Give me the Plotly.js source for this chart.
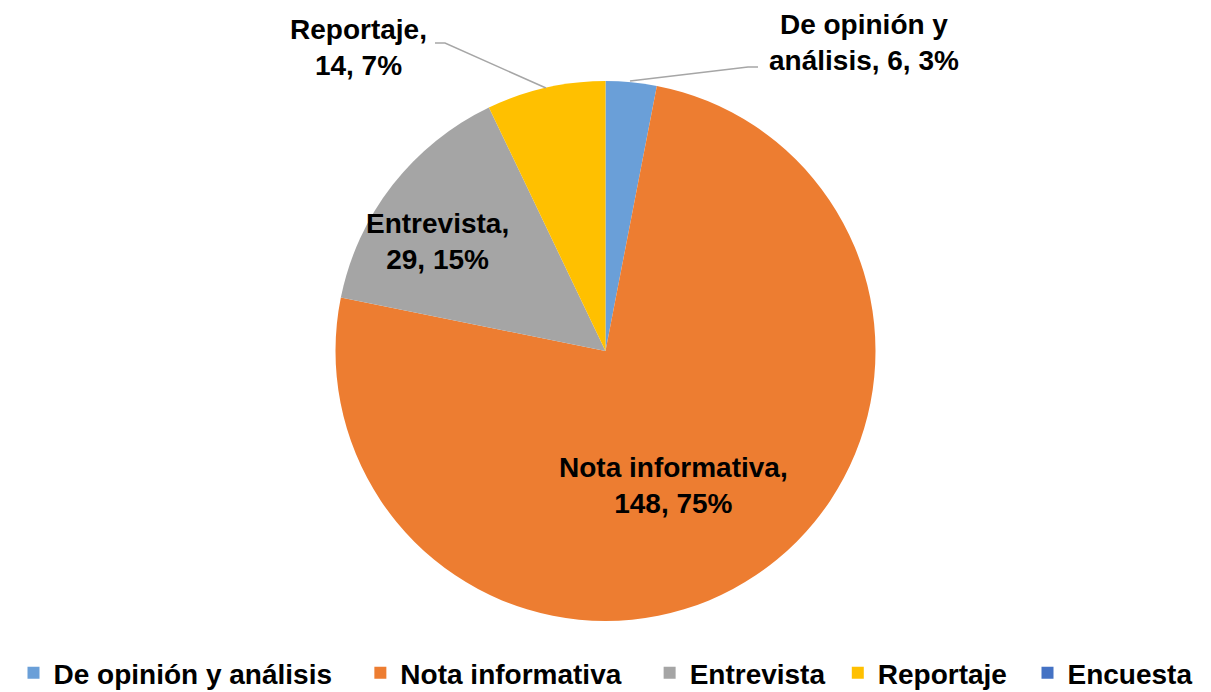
<!DOCTYPE html>
<html>
<head>
<meta charset="utf-8">
<script src="https://cdn.plot.ly/plotly-3.0.1.min.js"></script>
<style>html,body{margin:0;padding:0;background:#fff;}#chart{width:1211px;height:692px;}</style>
</head>
<body>
<div id="chart"></div>
<script>
// ---- data ----
const categories = ["De opinión y análisis", "Nota informativa", "Entrevista", "Reportaje", "Encuesta"];
const values = [6, 148, 29, 14, 0];
const colors = ["#6A9FD8", "#ED7D31", "#A5A5A5", "#FFC000", "#4472C4"];
// label text lines (as shown on the chart)
const labelLine1 = ["De opinión y", "Nota informativa,", "Entrevista,", "Reportaje,", ""];
const labelLine2 = ["análisis, ", "", "", "", ""];
// extra spacing after legend entries (number of non-breaking spaces)
const legendPad = [3, 3, 1, 2, 0];

const W = 1211, H = 692;
const px = x => x / W;
const py = y => 1 - y / H;

const total = values.reduce((a, b) => a + b, 0);
const pct = values.map(v => Math.round(100 * v / total) + "%");

const labelText = categories.map((c, i) => {
  if (i === 0) return labelLine1[0] + "<br>" + labelLine2[0] + values[i] + ", " + pct[i];
  return labelLine1[i] + "<br>" + values[i] + ", " + pct[i];
});

const labelPos = [[864, 42], [673, 486], [437, 242], [358, 48]];
const leaders = [
  [[630, 81], [748, 67], [758, 67]],
  null, null,
  [[546, 88], [445, 43], [435, 43]]
];

const labelFont = {family: "Liberation Sans, Arial, sans-serif", size: 28, color: "#000", weight: "bold"};

const annotations = labelPos.map((p, i) => ({
  x: px(p[0]), y: py(p[1]), xref: "paper", yref: "paper",
  text: labelText[i], showarrow: false,
  xanchor: "center", yanchor: "middle", align: "center",
  font: labelFont
}));

const shapes = [];
leaders.forEach(l => {
  if (!l) return;
  const d = l.map((p, k) => (k ? "L" : "M") + px(p[0]) + "," + py(p[1])).join(" ");
  shapes.push({type: "path", xref: "paper", yref: "paper", path: d,
    line: {color: "#A6A6A6", width: 1.5}});
});

const legendLabels = categories.map((c, i) => c + "\u00a0".repeat(legendPad[i]));

const trace = {
  type: "pie",
  labels: legendLabels,
  values: values,
  sort: false,
  direction: "clockwise",
  rotation: 0,
  marker: {colors: colors, line: {color: "#ffffff", width: 0}},
  textinfo: "none",
  hoverinfo: "label+value+percent",
  domain: {x: [0, 1], y: [py(621), py(81)]},
  showlegend: true
};

const layout = {
  width: W, height: H,
  margin: {l: 0, r: 0, t: 0, b: 0, autoexpand: false},
  paper_bgcolor: "#fff",
  font: {family: "Liberation Sans, Arial, sans-serif", color: "#000"},
  showlegend: true,
  legend: {
    orientation: "h", x: 0.5, xanchor: "center", y: py(673), yanchor: "middle",
    font: {size: 28, color: "#000", family: "Liberation Sans, Arial, sans-serif", weight: "bold"},
    itemwidth: 30, traceorder: "normal"
  },
  annotations: annotations,
  shapes: shapes
};

Plotly.newPlot("chart", [trace], layout, {displayModeBar: false, staticPlot: true});
</script>
</body>
</html>
